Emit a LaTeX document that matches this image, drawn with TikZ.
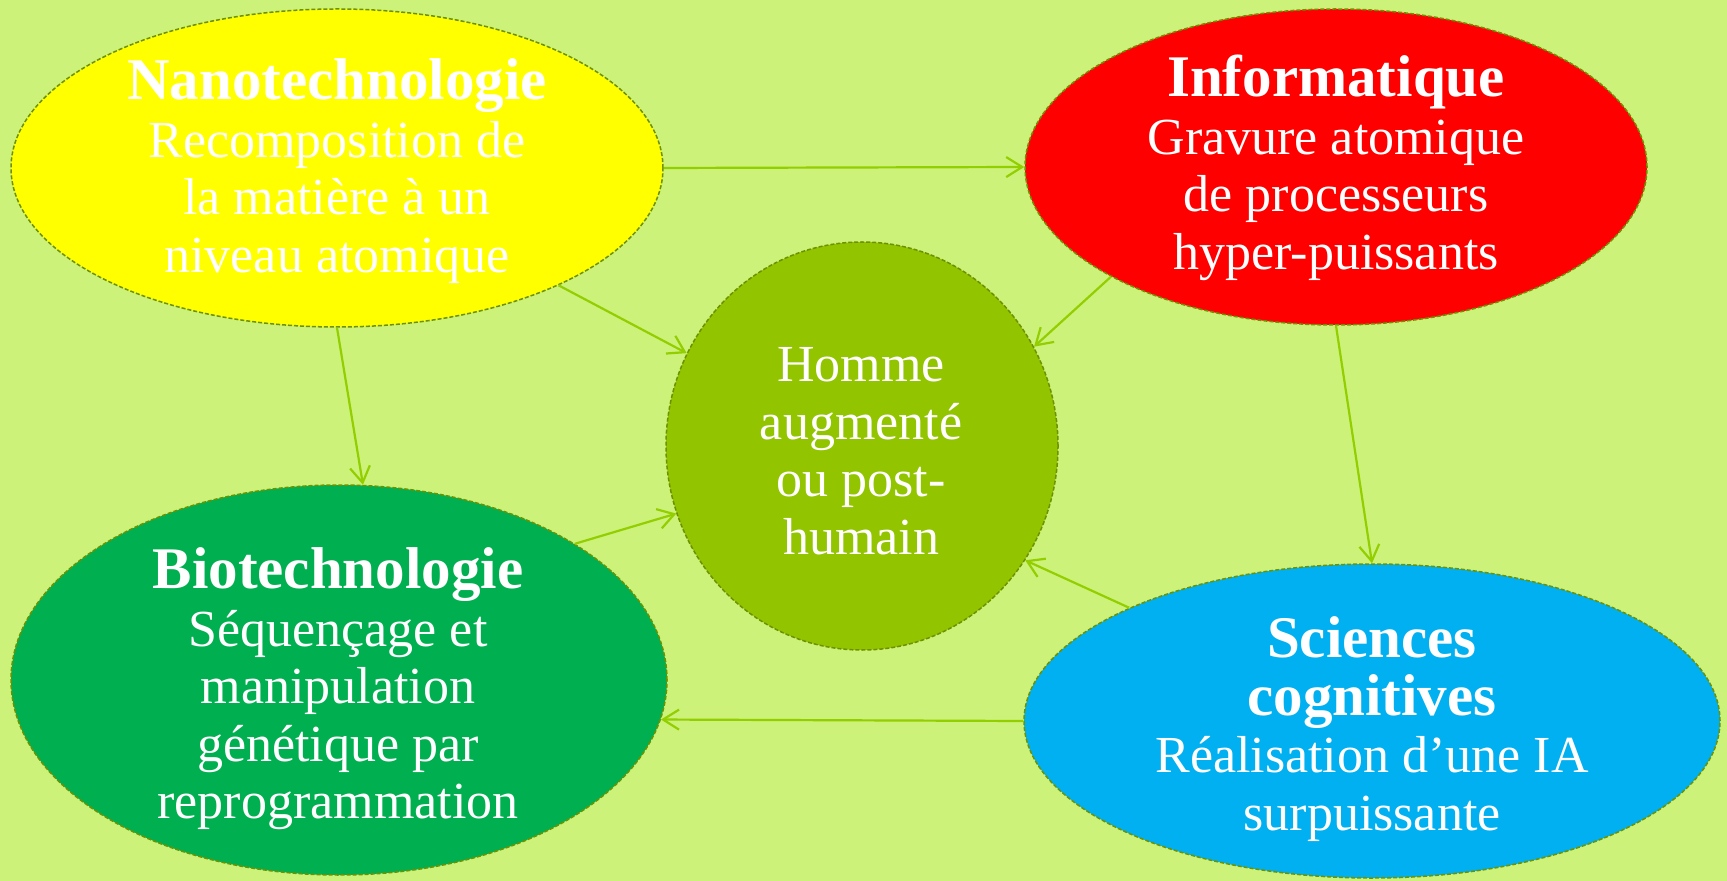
\documentclass[tikz,border=0pt]{standalone}
\usepackage{fontspec}
\setmainfont{Liberation Serif}
\usetikzlibrary{shapes.geometric,arrows.meta}
\definecolor{bgc}{RGB}{204,242,122}
\definecolor{nanoc}{RGB}{255,255,0}
\definecolor{infoc}{RGB}{255,0,0}
\definecolor{hommec}{RGB}{146,196,0}
\definecolor{bioc}{RGB}{0,176,80}
\definecolor{scic}{RGB}{0,176,240}
\definecolor{borderc}{RGB}{110,145,0}
\definecolor{arrowc}{RGB}{146,206,0}
\newcommand\diagtitle[1]{{\fontsize{29.5}{28.75}\selectfont\bfseries #1}}
\begin{document}
\begin{tikzpicture}[x=0.5pt,y=-0.5pt,
 blob/.style={ellipse, draw=borderc, line width=0.75pt, dash pattern=on 2pt off 1pt, inner sep=0pt},
 txt/.style={text=white, align=center, font=\fontsize{26}{28.75}\selectfont, inner sep=0pt},
 conn/.style={draw=arrowc, line width=1.1pt, -{Straight Barb[length=8pt,width=10pt]}}]
\useasboundingbox (0,0) rectangle (1727,881);
\fill[bgc] (0,0) rectangle (1727,881);
% shapes
\node[blob, fill=nanoc, minimum width=326pt, minimum height=159pt] (nano) at (337,168) {};
\node[blob, fill=infoc, minimum width=311pt, minimum height=158pt] (info) at (1336,167) {};
\node[blob, fill=hommec, minimum width=196pt, minimum height=204pt] (homme) at (862,446) {};
\node[blob, fill=bioc, minimum width=328pt, minimum height=195pt] (bio) at (339,680) {};
\node[blob, fill=scic, minimum width=348pt, minimum height=157pt] (sci) at (1372,721) {};
% connectors
\draw[conn] (nano.east) -- (info.west);
\draw[conn] (nano) -- (homme);
\draw[conn] (info.206.9) -- (homme.30.8);
\draw[conn] (nano.south) -- (bio.83.6);
\draw[conn] (info.south) -- (sci.north);
\draw[conn] (bio.30.3) -- (homme.-160.9);
\draw[conn] (sci.155.2) -- (homme.-35.3);
\draw[conn] (sci.west) -- (bio.-7);
% texts
\node[txt] (nanot) at (337,171) {\diagtitle{Nanotechnologie}\\Recomposition de\\la matière à un\\niveau atomique};
\node[txt] (infot) at (1336,168) {\diagtitle{Informatique}\\Gravure atomique\\de processeurs\\hyper-puissants};
\node[txt] (hommet) at (861,451) {Homme\\augmenté\\ou post-\\humain};
\node[txt] (biot) at (338,689) {\diagtitle{Biotechnologie}\\Séquençage et\\manipulation\\génétique par\\reprogrammation};
\node[txt] (scit) at (1372,729) {\diagtitle{Sciences}\\\diagtitle{cognitives}\\Réalisation d’une IA\\surpuissante};
\end{tikzpicture}
\end{document}
